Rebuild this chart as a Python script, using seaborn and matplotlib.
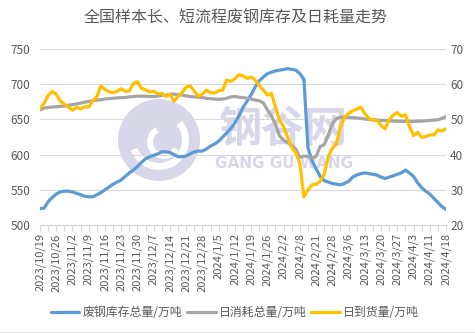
import numpy as np
import pandas as pd
import matplotlib
matplotlib.use("Agg")
import matplotlib.pyplot as plt
import seaborn as sns
from matplotlib.patches import Circle, Wedge
from matplotlib.lines import Line2D

# Week labels shown on the category axis (one every 4 samples)
dates = ["2023/10/19", "2023/10/26", "2023/11/2", "2023/11/9", "2023/11/16",
         "2023/11/23", "2023/11/30", "2023/12/7", "2023/12/14", "2023/12/21",
         "2023/12/28", "2024/1/5", "2024/1/12", "2024/1/19", "2024/1/26",
         "2024/2/2", "2024/2/8", "2024/2/21", "2024/2/28", "2024/3/6",
         "2024/3/13", "2024/3/20", "2024/3/27", "2024/4/3", "2024/4/11",
         "2024/4/18"]

# 废钢库存总量 (万吨, left axis)
stock = [523, 524, 533, 539, 544, 547, 548, 548, 547, 545,
         543, 541, 540, 540, 543, 546, 550, 554, 558, 561,
         564, 569, 574, 578, 583, 589, 594, 597, 599, 601,
         604, 604, 603, 600, 597, 597, 598, 601, 604, 605,
         605, 608, 612, 615, 619, 625, 631, 637, 645, 655,
         667, 676, 685, 696, 705, 710, 715, 717, 719, 720,
         721, 722, 721, 720, 715, 707, 610, 591, 580, 569,
         563, 561, 559, 558, 557, 559, 562, 568, 571, 573,
         574, 573, 572, 571, 568, 566, 568, 570, 572, 574,
         578, 574, 569, 560, 553, 548, 544, 538, 532, 526,
         522]

# 日消耗总量 (万吨, right axis)
consume = [52.7, 53.2, 53.4, 53.5, 53.6, 53.7, 53.8, 54.0, 54.2, 54.4,
           54.6, 54.9, 55.1, 55.3, 55.5, 55.6, 55.8, 55.9, 56.0, 56.1,
           56.2, 56.2, 56.4, 56.5, 56.6, 56.6, 56.6, 56.5, 56.5, 56.6,
           56.8, 56.9, 57.1, 57.2, 57.0, 56.9, 56.7, 56.5, 56.4, 56.3,
           56.2, 56.0, 55.9, 55.8, 55.7, 55.8, 56.0, 56.4, 56.5, 56.3,
           56.2, 56.0, 55.8, 55.5, 55.3, 54.7, 52.7, 51.0, 48.6, 45.3,
           44.1, 43.4, 42.6, 41.6, 39.2, 39.6, 39.5, 39.0, 39.5, 42.3,
           42.8, 45.5, 48.8, 50.2, 50.6, 50.6, 50.6, 50.5, 50.4, 50.3,
           50.1, 50.0, 49.9, 49.8, 49.7, 49.7, 49.6, 49.5, 49.5, 49.4,
           49.4, 49.4, 49.4, 49.5, 49.5, 49.6, 49.7, 49.8, 49.9, 50.3,
           50.8]

# 日到货量 (万吨, right axis)
arrival = [53.0, 54.5, 56.8, 57.9, 57.2, 55.2, 54.3, 53.5, 52.6, 53.4,
           53.0, 53.6, 53.5, 55.3, 56.5, 59.5, 58.5, 57.8, 57.6, 58.0,
           58.7, 58.0, 58.1, 60.2, 60.7, 58.8, 58.4, 57.8, 58.0, 57.3,
           57.4, 56.5, 57.2, 55.2, 56.5, 57.6, 59.2, 59.5, 58.0, 56.6,
           57.2, 58.3, 57.6, 57.5, 58.1, 58.3, 61.2, 60.8, 61.5, 62.7,
           62.4, 61.6, 62.1, 61.2, 59.6, 58.4, 56.9, 57.4, 53.5, 49.8,
           47.9, 45.0, 42.0, 40.5, 37.5, 28.0, 30.0, 31.4, 31.6, 32.4,
           34.5, 39.4, 41.8, 43.0, 48.0, 50.6, 51.7, 52.4, 52.9, 53.5,
           51.7, 50.3, 49.8, 49.8, 48.3, 47.3, 49.9, 51.2, 51.9, 50.9,
           51.3, 48.0, 45.4, 46.3, 44.9, 45.1, 45.6, 45.6, 47.0, 46.7,
           47.3]

series_names = ["废钢库存总量/万吨", "日消耗总量/万吨", "日到货量/万吨"]
colors = ["#5b9bd5", "#a5a5a5", "#ffc000"]
title = "全国样本长、短流程废钢库存及日耗量走势"

df = pd.DataFrame({"idx": np.arange(len(stock)),
                   "stock": stock, "consume": consume, "arrival": arrival})

sns.set_theme(style="white")
plt.rcParams["font.family"] = ["Noto Sans CJK SC", "DejaVu Sans"]

W, H = 475, 333
fig = plt.figure(figsize=(W / 100, H / 100), dpi=100)
fig.patch.set_facecolor("white")

# Watermark logo
wm = "#d7d7e9"
cx, cy, r = 1.59, (H - 140) / 100, 0.41
fig.add_artist(Circle((cx, cy), r, transform=fig.dpi_scale_trans,
                      facecolor=wm, edgecolor="none", zorder=1))
fig.add_artist(Wedge((cx, cy), 0.30, 200, 40, width=0.07,
                     transform=fig.dpi_scale_trans, facecolor="white",
                     edgecolor="none", zorder=1))
fig.add_artist(Wedge((cx + 0.05, cy - 0.02), 0.17, 120, 330, width=0.06,
                     transform=fig.dpi_scale_trans, facecolor="white",
                     edgecolor="none", zorder=1))
fig.text(283 / W, 1 - 129 / H, "钢谷网", ha="center", va="center",
         fontsize=31, fontweight="bold", color=wm, zorder=1)
fig.text(284 / W, 1 - 164 / H, "GANG GU WANG", ha="center", va="center",
         fontsize=11, fontweight="bold", color=wm, zorder=1,
         family="DejaVu Sans")

ax = fig.add_axes([40 / W, 1 - 225 / H, 406 / W, 176 / H])
ax2 = ax.twinx()
ax.set_zorder(2)
ax2.set_zorder(3)
ax.patch.set_visible(False)
ax2.patch.set_visible(False)

lw = 2.3
sns.lineplot(data=df, x="idx", y="stock", ax=ax, color=colors[0], lw=lw,
             solid_joinstyle="round", solid_capstyle="round")
sns.lineplot(data=df, x="idx", y="consume", ax=ax2, color=colors[1], lw=lw,
             solid_joinstyle="round", solid_capstyle="round")
sns.lineplot(data=df, x="idx", y="arrival", ax=ax2, color=colors[2], lw=lw,
             solid_joinstyle="round", solid_capstyle="round")

grid_c = "#d9d9d9"
text_c = "#595959"

ax.set_xlim(0, len(stock) - 1)
ax.set_ylim(500, 750)
ax.set_yticks(np.arange(500, 751, 50))
ax2.set_ylim(20, 70)
ax2.set_yticks(np.arange(20, 71, 10))
ax.yaxis.grid(True, color=grid_c, lw=0.8)
ax.xaxis.grid(False)
ax2.grid(False)

ax.set_xticks(np.arange(0, len(stock), 4))
ax.set_xticklabels(dates, rotation=90, ha="center", va="top")
ax.set_xticks(np.arange(2, len(stock), 4), minor=True)
ax.tick_params(axis="x", which="both", length=4, width=0.8, color=grid_c,
               direction="out", labelsize=8, labelcolor=text_c, pad=2,
               bottom=True)
ax.tick_params(axis="y", length=0, labelsize=8.5, labelcolor=text_c, pad=7)
ax2.tick_params(axis="y", length=0, labelsize=8.5, labelcolor=text_c, pad=3)

for s in ax.spines.values():
    s.set_visible(False)
for s in ax2.spines.values():
    s.set_visible(False)
ax.spines["bottom"].set_visible(True)
ax.spines["bottom"].set_color(grid_c)
ax.spines["bottom"].set_linewidth(0.8)

ax.set_xlabel("")
ax.set_ylabel("")
ax2.set_ylabel("")

fig.text(236 / W, 1 - 18 / H, title, ha="center", va="center",
         fontsize=11.5, color=text_c)

handles = [Line2D([], [], color=c, lw=2.3) for c in colors]
fig.legend(handles, series_names, loc="center",
           bbox_to_anchor=(235 / W, 1 - 313 / H), ncol=3, frameon=False,
           fontsize=8.6, handlelength=2.4, handletextpad=0.3,
           columnspacing=0.35, labelcolor=text_c)

fig.add_artist(Line2D([0, 1], [0.5 / H, 0.5 / H], transform=fig.transFigure,
                      color=grid_c, lw=1.2))

fig.savefig("out.png", dpi=100)
